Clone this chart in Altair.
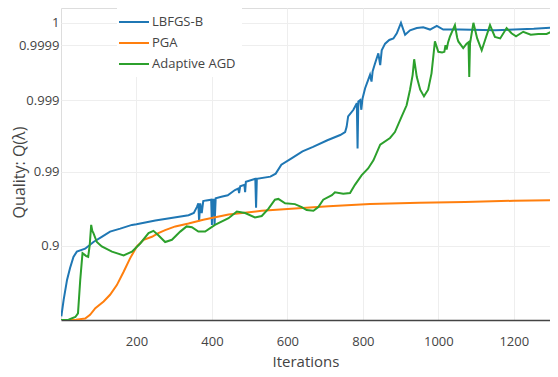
import math
import altair as alt
import pandas as pd

# Series names and colours
series_names = ["LBFGS-B", "PGA", "Adaptive AGD"]
series_colors = ["#1f77b4", "#ff7f0e", "#2ca02c"]

# Values are on the plotted "nines" scale: y = -log10(1 - Q + 1e-4)
lbfgs_iter = [1, 2, 7, 16, 24, 33, 42, 64, 86, 108, 130, 157, 188, 200, 250, 338, 352, 360, 364, 366,
              369, 373, 377, 385, 398, 400, 402, 405, 407, 410, 425, 442, 461, 470, 472, 475, 486, 488, 490, 515,
              517, 519, 555, 569, 584, 612, 640, 668, 706, 740, 753, 757, 761, 775, 784, 786, 788, 793, 796, 799,
              806, 819, 823, 826, 832, 841, 846, 850, 859, 870, 881, 890, 901, 912, 925, 943, 960, 978, 996, 1013,
              1057, 1150, 1253, 1317]
lbfgs_nines = [0.05, 0.09, 0.27, 0.54, 0.70, 0.85, 0.92, 0.96, 1.05, 1.12, 1.19, 1.23, 1.28, 1.29, 1.34, 1.41, 1.44, 1.52, 1.57, 1.33,
               1.57, 1.44, 1.60, 1.61, 1.62, 1.28, 1.62, 1.62, 1.28, 1.64, 1.66, 1.68, 1.75, 1.77, 1.71, 1.80, 1.82, 1.72, 1.86, 1.90,
               1.51, 1.90, 1.93, 1.97, 2.09, 2.18, 2.27, 2.33, 2.42, 2.49, 2.53, 2.60, 2.74, 2.83, 2.92, 2.31, 2.94, 2.96, 2.83, 2.98,
               3.12, 3.30, 3.21, 3.35, 3.45, 3.59, 3.43, 3.63, 3.72, 3.77, 3.79, 3.86, 4.00, 3.84, 3.90, 3.93, 3.94, 3.91, 3.96, 3.91,
               3.91, 3.90, 3.92, 3.94]

pga_iter = [0, 40, 64, 77, 91, 113, 130, 148, 166, 183, 201, 219, 241, 258, 276, 303, 338, 377, 444, 532,
            620, 709, 819, 950, 1071, 1200, 1317]
pga_nines = [0.0, 0.005, 0.02, 0.07, 0.16, 0.25, 0.34, 0.47, 0.65, 0.83, 0.99, 1.08, 1.12, 1.17, 1.21, 1.26, 1.30, 1.35, 1.42, 1.47,
             1.50, 1.53, 1.56, 1.58, 1.59, 1.605, 1.615]

agd_iter = [0, 20, 38, 45, 51, 57, 62, 67, 72, 76, 80, 83, 86, 95, 108, 135, 166, 188, 210, 232,
            245, 258, 276, 294, 316, 333, 347, 364, 382, 408, 444, 466, 488, 514, 532, 550, 567, 576, 594, 620,
            638, 651, 669, 682, 695, 718, 726, 748, 766, 779, 797, 814, 828, 846, 872, 885, 903, 916, 925, 932,
            936, 943, 952, 962, 973, 982, 991, 1000, 1010, 1016, 1019, 1022, 1026, 1031, 1044, 1050, 1053, 1066, 1075, 1080,
            1082, 1084, 1093, 1103, 1115, 1124, 1137, 1150, 1164, 1181, 1194, 1206, 1225, 1245, 1265, 1287, 1300, 1317]
agd_nines = [0.0, 0.005, 0.04, 0.09, 0.54, 0.90, 0.88, 0.86, 0.85, 1.0, 1.28, 1.20, 1.17, 1.05, 0.99, 0.92, 0.87, 0.92, 1.03, 1.17,
             1.20, 1.14, 1.05, 1.08, 1.19, 1.26, 1.25, 1.19, 1.19, 1.28, 1.37, 1.46, 1.44, 1.38, 1.40, 1.50, 1.62, 1.63, 1.57, 1.56,
             1.52, 1.48, 1.47, 1.52, 1.62, 1.68, 1.72, 1.70, 1.71, 1.82, 1.95, 2.04, 2.15, 2.36, 2.45, 2.53, 2.74, 2.89, 3.10, 3.30,
             3.51, 3.27, 3.10, 3.01, 3.10, 3.32, 3.75, 3.61, 3.60, 3.61, 3.70, 3.64, 3.74, 3.82, 3.97, 3.80, 3.75, 3.66, 3.72, 3.74,
             3.27, 3.72, 4.0, 3.79, 3.63, 3.77, 3.97, 3.81, 3.79, 3.93, 3.86, 3.82, 3.88, 3.84, 3.85, 3.85, 3.88, 3.96]

# Axis ticks
x_tick_values = [200, 400, 600, 800, 1000, 1200]
y_tick_quality = [0.9, 0.99, 0.999, 0.9999, 1.0]
y_tick_labels = ["0.9", "0.99", "0.999", "0.9999", "1"]


def to_nines(q):
    return -math.log10(1 - q + 1e-4)


y_tick_pos = [to_nines(q) for q in y_tick_quality]

rows = []
for name, its, vals in [("LBFGS-B", lbfgs_iter, lbfgs_nines),
                        ("PGA", pga_iter, pga_nines),
                        ("Adaptive AGD", agd_iter, agd_nines)]:
    assert len(its) == len(vals), name
    for i, v in zip(its, vals):
        rows.append({"series": name, "iteration": i, "nines": v})
df = pd.DataFrame(rows)

label_expr = " : ".join(
    f"abs(datum.value - {p:.5f}) < 0.01 ? '{l}'" for p, l in zip(y_tick_pos, y_tick_labels)
) + " : ''"

FONT = "Open Sans"
TXT = "#444"

chart = alt.Chart(df).mark_line(strokeWidth=2, clip=True).encode(
    x=alt.X("iteration:Q",
            scale=alt.Scale(domain=[0, 1296], nice=False, zero=False),
            axis=alt.Axis(title="Iterations", values=x_tick_values, format="d", grid=True, gridColor="#eeeeee",
                          gridWidth=1, domainColor="#444444", domainWidth=1.5, ticks=False, tickSize=0,
                          labelPadding=15, labelFontSize=13, labelColor=TXT, labelFont=FONT,
                          labelFlush=False, labelOverlap=False,
                          titleFontSize=15, titleColor=TXT, titleFont=FONT, titleFontWeight="normal",
                          titleBaseline="alphabetic", titleY=46)),
    y=alt.Y("nines:Q",
            scale=alt.Scale(domain=[0, 4.2], nice=False, zero=False),
            axis=alt.Axis(title="Quality: Q(λ)", values=y_tick_pos, labelExpr=label_expr, grid=True,
                          gridColor="#eeeeee", gridWidth=1, domain=False, ticks=False, tickSize=0,
                          labelPadding=2, labelFontSize=13, labelColor=TXT, labelFont=FONT,
                          labelOverlap=False, labelFlush=False,
                          titleFontSize=16, titleColor=TXT, titleFont=FONT, titleFontWeight="normal",
                          titleAngle=-90, titleBaseline="alphabetic", titleAlign="center",
                          titleX=-37, titleY=164)),
    color=alt.Color("series:N",
                    scale=alt.Scale(domain=series_names, range=series_colors),
                    legend=alt.Legend(title=None, orient="none", legendX=56, legendY=-3,
                                      symbolType="M-1.5,0H1.5", symbolSize=400, symbolStrokeWidth=2,
                                      symbolFillColor="transparent",
                                      labelFontSize=13, labelColor=TXT, labelFont=FONT,
                                      fillColor="white", padding=6, rowPadding=3, labelOffset=7)),
).properties(
    width=489, height=312,
    autosize=alt.AutoSizeParams(type="none"),
    padding={"left": 53, "top": 0, "right": 0, "bottom": 49},
).configure_view(stroke=None).configure(font=FONT)

chart.save("out.html", embed_options={"renderer": "svg", "actions": False})
